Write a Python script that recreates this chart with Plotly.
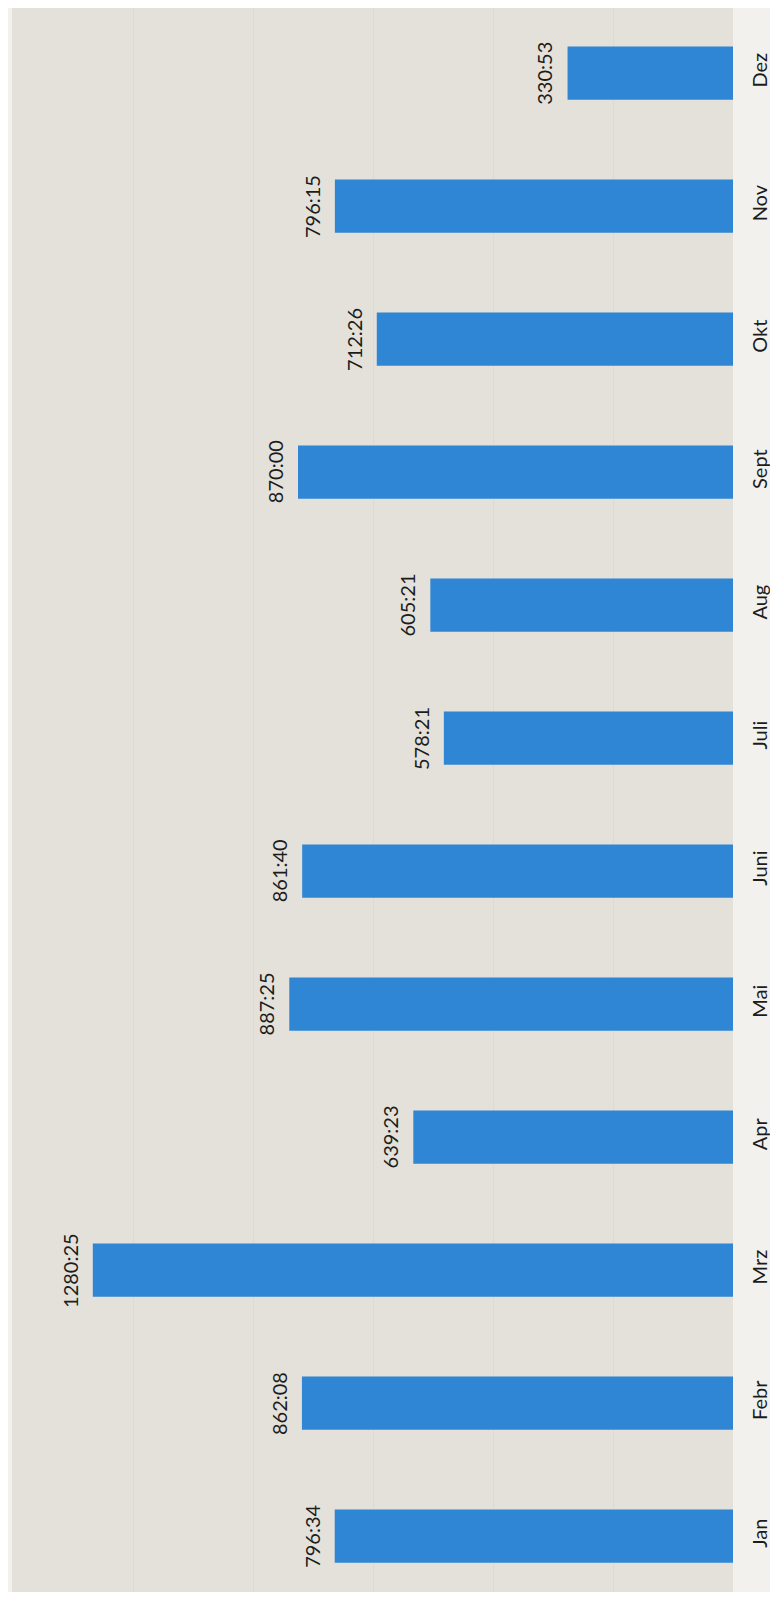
import plotly.graph_objects as go

months = ["Jan", "Febr", "Mrz", "Apr", "Mai", "Juni", "Juli", "Aug", "Sept", "Okt", "Nov", "Dez"]
hours = [796, 862, 1280, 639, 887, 861, 578, 605, 870, 712, 796, 330]
minutes = [34, 8, 25, 23, 25, 40, 21, 21, 0, 26, 15, 53]

values = [h + m / 60 for h, m in zip(hours, minutes)]
labels = [f"{h}:{m:02d}" for h, m in zip(hours, minutes)]

FONT = "Lato, 'Open Sans', sans-serif"
TXT = "#1c1c1c"

fig = go.Figure()
fig.add_trace(go.Bar(
    x=values, y=months, orientation="h",
    marker=dict(color="#2f86d4", line=dict(width=0)),
    hoverinfo="skip",
))

for v, m, lab in zip(values, months, labels):
    fig.add_annotation(
        x=v, y=m, text=lab, showarrow=False, textangle=-90,
        xanchor="center", yanchor="middle", xshift=-23,
        font=dict(family=FONT, size=20, color=TXT),
    )

fig.update_layout(
    width=770, height=1584,
    margin=dict(l=4, r=45, t=0, b=0),
    paper_bgcolor="#f2f1ed",
    plot_bgcolor="#e3e1da",
    bargap=0.6,
    showlegend=False,
    font=dict(family=FONT, size=20, color=TXT),
    xaxis=dict(
        range=[1442, 0], showticklabels=False, ticks="",
        showgrid=True, gridcolor="#dcdad3", gridwidth=1, dtick=240,
        zeroline=False, showline=False, fixedrange=True,
    ),
    yaxis=dict(
        categoryorder="array", categoryarray=months,
        range=[-0.42, 11.49], autorange=False,
        side="right", tickangle=-90, ticks="",
        ticklabelstandoff=13, automargin=False,
        tickfont=dict(family=FONT, size=20, color=TXT),
        showgrid=False, zeroline=False, showline=False, fixedrange=True,
    ),
)

fig.write_html("out.html")
